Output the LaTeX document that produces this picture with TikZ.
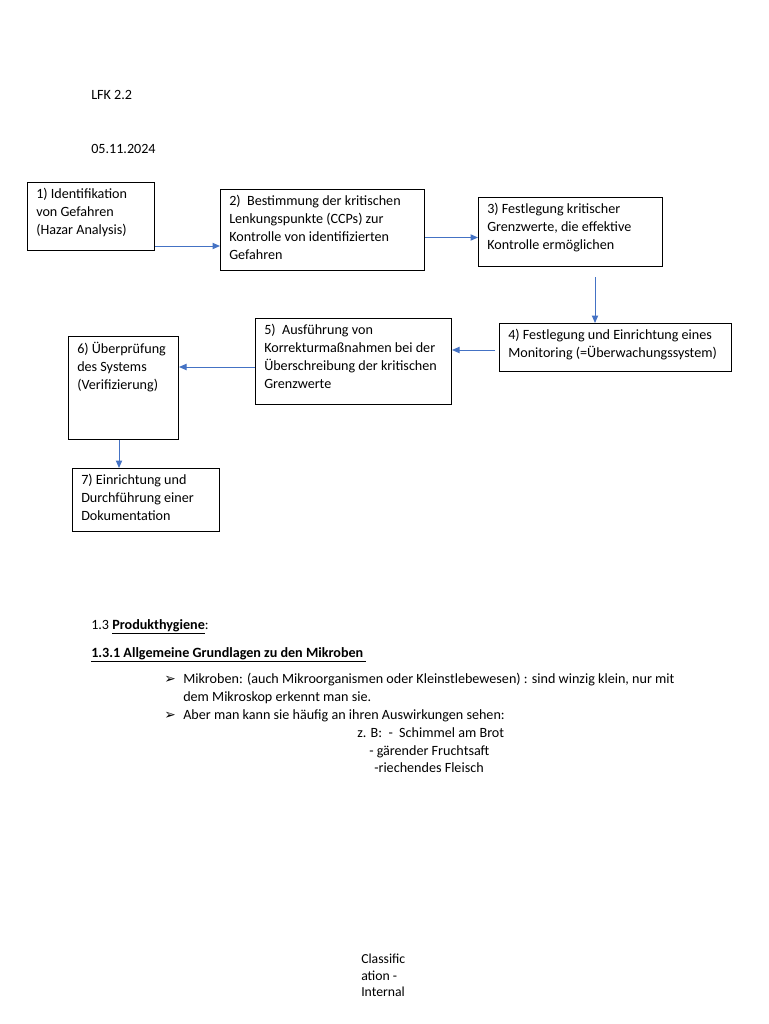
\documentclass[tikz,border=0pt]{standalone}
\usepackage{fontspec}
\setmainfont{Carlito}
\newfontfamily\symfont{DejaVu Sans}
\usetikzlibrary{arrows.meta, positioning, calc}
\definecolor{flowblue}{HTML}{4472C4}

\tikzset{
  stepbox/.style={draw=black, line width=0.8pt, anchor=north west, align=flush left,
    inner xsep=7pt, inner ysep=4.5pt, font=\fontsize{11.3}{14.4}\selectfont, text depth=#1},
  stepbox/.default=4pt,
  flow/.style={draw=flowblue, line width=0.8pt, -{Triangle[length=6pt,width=5pt]}},
  plain/.style={anchor=base west, inner sep=0pt, font=\fontsize{11.3}{14.4}\selectfont}
}

\begin{document}
\begin{tikzpicture}[x=0.8pt, y=-0.8pt]
  \useasboundingbox[fill=white] (0,0) rectangle (768,1024);

  % header
  \node[plain] (title) at (91,99.5) {LFK 2.2};
  \node[plain] (date) at (91,153.5) {05.11.2024};

  % HACCP steps
  \node[stepbox=36.9pt, text width=87.6pt] (b1) at (27,182)
    {1) Identifikation\\von Gefahren\\(Hazar Analysis)};
  \node[stepbox=47.3pt, text width=149.2pt] (b2) at (220,189)
    {2)~ Bestimmung der kritischen\\Lenkungspunkte (CCPs) zur\\Kontrolle von identifizierten\\Gefahren};
  \node[stepbox=37.7pt, text width=133.2pt] (b3) at (478,197)
    {3) Festlegung kritischer\\Grenzwerte, die effektive\\Kontrolle ermöglichen};
  \node[stepbox=20.9pt, text width=171.6pt] (b4) at (499,323)
    {4) Festlegung und Einrichtung eines\\Monitoring (=Überwachungssystem)};
  \node[stepbox=51.3pt, text width=142.8pt] (b5) at (255,318)
    {5)~ Ausführung von\\Korrekturmaßnahmen bei der\\Überschreibung der kritischen\\Grenzwerte};
  \node[stepbox=64.1pt, text width=74pt] (b6) at (68,336)
    {6) Überprüfung\\des Systems\\(Verifizierung)};
  \node[stepbox=32.9pt, text width=103.6pt] (b7) at (72,468)
    {7) Einrichtung und\\Durchführung einer\\Dokumentation};

  % arrows
  \coordinate (s34) at (595,277);
  \coordinate (s45) at (495,350);
  \draw[flow] (b1.east |- 0,246) -- (b2.west |- 0,246);
  \draw[flow] (b2.east |- 0,237.5) -- (b3.west |- 0,237.5);
  \draw[flow] (s34) -- (b4.north -| s34);
  \draw[flow] (s45) -- (b5.east |- s45);
  \draw[flow] (b5.west |- 0,367) -- (b6.east |- 0,367);
  \draw[flow] (b6.south -| 119,0) -- (b7.north -| 119,0);

  % text below
  \node[plain] (sec) at (91,629.5) {1.3 \underline{\textbf{Produkthygiene}}:};
  \node[plain] (subsec) at (91,657.5) {\underline{\textbf{1.3.1 Allgemeine Grundlagen zu den Mikroben}\ }};
  \node[plain] (mark1) at (164,683.5) {\symfont\fontsize{11}{12}\selectfont ➢};
  \node[plain] (item1) at (183,683.5) {Mikroben: (auch Mikroorganismen oder Kleinstlebewesen) : sind winzig klein, nur mit};
  \node[plain] (item1b) at (183,701.5) {dem Mikroskop erkennt man sie.};
  \node[plain] (mark2) at (164,719.5) {\symfont\fontsize{11}{12}\selectfont ➢};
  \node[plain] (item2) at (183,719.5) {Aber man kann sie häufig an ihren Auswirkungen sehen:};
  \node[plain] (ex1) at (357,737.5) {z. B:~ -~ Schimmel am Brot};
  \node[plain] (ex2) at (369,755) {- gärender Fruchtsaft};
  \node[plain] (ex3) at (374,772.5) {-riechendes Fleisch};

  % footer
  \node[plain, align=flush left, text width=50pt, font=\fontsize{11}{13.2}\selectfont] (classif) at (361,963.5)
    {Classific\\ation -\\Internal};
\end{tikzpicture}
\end{document}
